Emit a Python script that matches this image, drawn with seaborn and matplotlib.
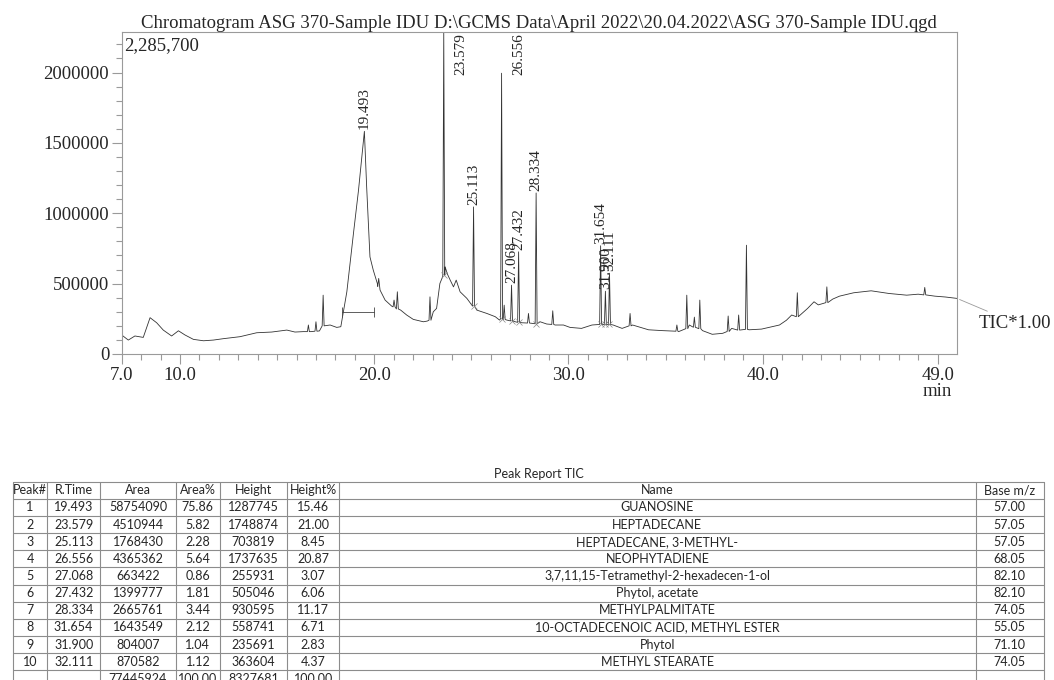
import pandas as pd
import matplotlib.pyplot as plt
import seaborn as sns

# TIC trace (time in min, intensity in counts)
base_time = [7.00, 7.34, 7.68, 8.11, 8.46, 8.80, 9.14, 9.57, 9.92, 10.26, 10.69, 11.21,
             11.72, 12.24, 13.09, 13.95, 14.72, 15.50, 15.92, 16.35, 16.75, 17.18, 17.73,
             18.07, 18.28, 18.59, 18.93, 19.19, 19.36, 19.493, 19.61, 19.78, 19.95, 20.16,
             20.30, 20.56, 20.90, 21.36, 21.67, 22.01, 22.53, 22.73, 23.04, 23.21, 23.38,
             23.52, 23.65, 23.77, 23.91, 24.08, 24.22, 24.42, 24.77, 25.03, 25.28, 25.80,
             26.23, 26.45, 26.83, 27.26, 27.60, 28.11, 28.54, 28.88, 29.31, 29.74, 30.08,
             30.67, 31.21, 32.30, 32.76, 33.30, 34.12, 34.85, 35.67, 36.22, 36.90, 37.40,
             37.94, 38.40, 39.30, 39.94, 40.86, 41.22, 41.49, 42.31, 42.64, 42.86, 43.60,
             43.95, 44.68, 45.58, 46.50, 47.41, 48.00, 48.86, 49.40, 50.00]
base_tic = [135000, 99000, 128000, 118000, 258000, 222000, 170000, 128000, 165000, 135000,
            104000, 94000, 99000, 109000, 123000, 151000, 156000, 170000, 156000, 159000,
            159000, 164000, 206000, 189000, 194000, 442000, 856000, 1163000, 1399000,
            1582000, 1187000, 690000, 596000, 501000, 454000, 383000, 340000, 312000,
            277000, 246000, 229000, 234000, 300000, 324000, 501000, 548000, 619000, 567000,
            525000, 477000, 525000, 442000, 395000, 347000, 312000, 288000, 265000, 241000,
            241000, 229000, 222000, 218000, 229000, 213000, 206000, 206000, 189000, 182000,
            206000, 206000, 182000, 206000, 172000, 166000, 159000, 206000, 166000, 140000,
            147000, 182000, 172000, 177000, 206000, 240000, 277000, 324000, 371000, 349000,
            390000, 411000, 435000, 449000, 430000, 418000, 425000, 411000, 405000, 395000]

# sharp peaks: retention time, apex, foot
spike_time = [16.61, 17.00, 17.37, 20.23, 21.02, 21.19, 22.87, 23.579, 25.113, 26.556,
              26.69, 27.068, 27.432, 27.94, 28.334, 29.19, 31.654, 31.900, 32.111, 33.17,
              35.58, 36.09, 36.48, 36.76, 38.22, 38.76, 39.16, 41.78, 43.30, 48.34]
spike_apex = [206000, 229000, 418000, 537000, 383000, 442000, 406000, 2285700, 1045000,
              1995000, 347000, 489000, 726000, 288000, 1144000, 307000, 769000, 446000,
              574000, 288000, 206000, 418000, 262000, 383000, 270000, 277000, 773000,
              435000, 477000, 473000]
spike_foot = [159000, 162000, 200000, 480000, 335000, 320000, 240000, 560000, 340000,
              250000, 245000, 235000, 225000, 220000, 215000, 210000, 210000, 210000,
              210000, 200000, 162000, 180000, 190000, 180000, 160000, 170000, 175000,
              265000, 365000, 420000]

# peak report table
peak_no = ['1', '2', '3', '4', '5', '6', '7', '8', '9', '10']
r_time = ['19.493', '23.579', '25.113', '26.556', '27.068', '27.432', '28.334',
          '31.654', '31.900', '32.111']
area = ['58754090', '4510944', '1768430', '4365362', '663422', '1399777', '2665761',
        '1643549', '804007', '870582']
area_pct = ['75.86', '5.82', '2.28', '5.64', '0.86', '1.81', '3.44', '2.12', '1.04', '1.12']
height = ['1287745', '1748874', '703819', '1737635', '255931', '505046', '930595',
          '558741', '235691', '363604']
height_pct = ['15.46', '21.00', '8.45', '20.87', '3.07', '6.06', '11.17', '6.71', '2.83', '4.37']
names = ['GUANOSINE', 'HEPTADECANE', 'HEPTADECANE, 3-METHYL-', 'NEOPHYTADIENE',
         '3,7,11,15-Tetramethyl-2-hexadecen-1-ol', 'Phytol, acetate', 'METHYLPALMITATE',
         '10-OCTADECENOIC ACID, METHYL ESTER', 'Phytol', 'METHYL STEARATE']
base_mz = ['57.00', '57.05', '57.05', '68.05', '82.10', '82.10', '74.05', '55.05', '71.10', '74.05']
totals = ['', '', '77445924', '100.00', '8327681', '100.00', '', '']
headers = ['Peak#', 'R.Time', 'Area', 'Area%', 'Height', 'Height%', 'Name', 'Base m/z']

y_max = 2285700

# build the trace
w = 0.05
pts = list(zip(base_time, base_tic))
for t, a, f in zip(spike_time, spike_apex, spike_foot):
    pts += [(t - w, f), (t, a), (t + w, f)]
pts.sort()
df = pd.DataFrame(pts, columns=['Time', 'TIC'])
apex = dict(pts)
foot = dict(zip(spike_time, spike_foot))

sns.set_style('white')
plt.rcParams['font.family'] = ['Liberation Serif', 'DejaVu Serif']

W, H = 1054, 680
fig = plt.figure(figsize=(W / 100, H / 100), dpi=100)
ax = fig.add_axes([121.7 / W, 1 - 354 / H, (957 - 121.7) / W, (354 - 32.3) / H])

sns.lineplot(data=df, x='Time', y='TIC', ax=ax, sort=False, estimator=None,
             color='#333333', lw=0.6)

# integration baseline of the broad peak
ax.plot([18.33, 19.99], [296000, 296000], color='#444444', lw=0.6)
ax.plot([18.33, 19.99], [296000, 296000], ls='none', marker='|', ms=7, color='#444444', mew=0.6)

# peak start/end marks of the other reported peaks
mark_t = [float(rt) for rt in r_time[1:]]
ax.plot(mark_t, [foot[t] for t in mark_t], ls='none', marker='x', ms=5,
        mew=0.5, color='#888888')

ax.set_xlim(7, 50)
ax.set_ylim(0, y_max)
ax.set_xticks([7, 10, 20, 30, 40, 49])
ax.set_xticklabels(['7.0', '10.0', '20.0', '30.0', '40.0', '49.0'])
ax.set_xticks(range(7, 50), minor=True)
ax.set_yticks([0, 500000, 1000000, 1500000, 2000000])
ax.set_yticklabels(['0', '500000', '1000000', '1500000', '2000000'])
ax.set_yticks(range(0, 2285700, 100000), minor=True)
ax.tick_params(which='both', direction='out', color='#9a9a9a', width=0.8,
               labelsize=13.5, pad=2, bottom=True, left=True)
ax.tick_params(which='major', length=7)
ax.tick_params(which='minor', length=4)
ax.set_xlabel('')
ax.set_ylabel('')
for s in ax.spines.values():
    s.set_color('#9a9a9a')
    s.set_linewidth(0.8)

# peak labels
for rt in r_time:
    t = float(rt)
    top = apex[t]
    if top > 0.85 * y_max:
        ax.annotate(rt, (t, y_max), xytext=(17, -1), textcoords='offset pixels',
                    rotation=90, ha='center', va='top', fontsize=11)
    else:
        ax.annotate(rt, (t, top), xytext=(0, 2), textcoords='offset pixels',
                    rotation=90, ha='center', va='bottom', fontsize=11)

ax.text(0.003, 0.985, '2,285,700', transform=ax.transAxes, ha='left', va='top', fontsize=13.5)
ax.annotate('TIC*1.00', (50, base_tic[-1]), xytext=(979, H - 323), textcoords='figure pixels',
            ha='left', va='center', fontsize=13.5, annotation_clip=False,
            arrowprops=dict(arrowstyle='-', color='#9a9a9a', lw=0.6, shrinkA=0, shrinkB=2))
fig.text(952 / W, 1 - 392 / H, 'min', ha='right', va='center', fontsize=13.5)
fig.text(539 / W, 1 - 28 / H,
         'Chromatogram ASG 370-Sample IDU D:\\GCMS Data\\April 2022\\20.04.2022\\ASG 370-Sample IDU.qgd',
         ha='center', va='baseline', fontsize=13.5)

# peak report table
tab = fig.add_axes([0, 0, 1, 1])
tab.set_xlim(0, W)
tab.set_ylim(H, 0)
tab.axis('off')
col_edges = [12.8, 47.3, 100, 176, 219.7, 287.4, 339, 975.7, 1043.8]
row_top, row_h = 481.7, 17.15
columns = [peak_no, r_time, area, area_pct, height, height_pct, names, base_mz]
rows = [headers] + [list(r) for r in zip(*columns)] + [totals]
line_kw = dict(color='#8c8c8c', lw=0.8)
for i in range(len(rows) + 1):
    tab.plot([col_edges[0], col_edges[-1]], [row_top + i * row_h] * 2, **line_kw)
for x in col_edges:
    tab.plot([x, x], [row_top, row_top + len(rows) * row_h], **line_kw)
for i, row in enumerate(rows):
    yc = row_top + (i + 0.5) * row_h
    for j, val in enumerate(row):
        xc = (col_edges[j] + col_edges[j + 1]) / 2
        tab.text(xc, yc, val, ha='center', va='center', fontsize=9, family='Lato')
tab.text(539, 474, 'Peak Report TIC', ha='center', va='center', fontsize=9, family='Lato')

fig.savefig('out.png', dpi=100)
